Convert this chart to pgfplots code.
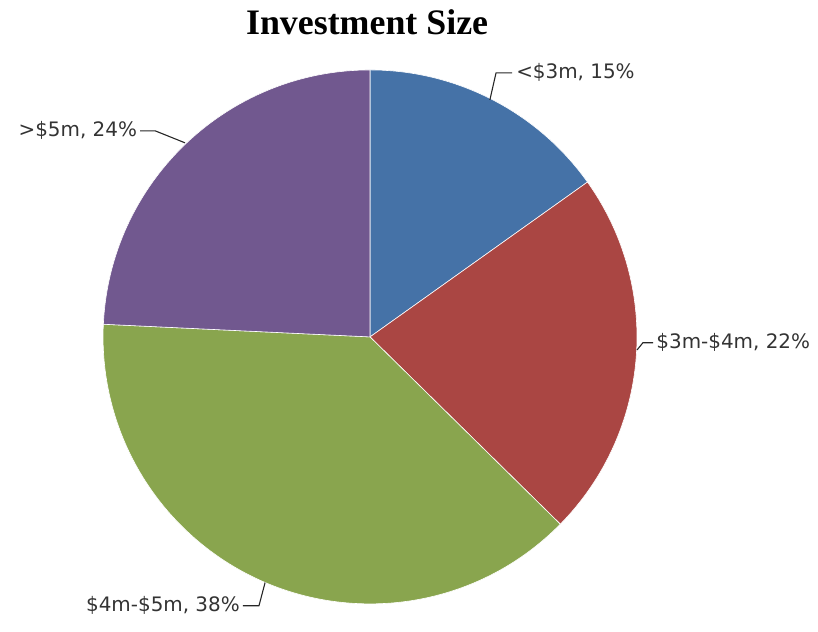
\documentclass[border=0pt]{standalone}
\usepackage{pgfplots}
\usepackage{pgfplotstable}
\usepackage{fontspec}
\pgfplotsset{compat=1.18}
\setmainfont{Liberation Serif}
\newfontfamily\labfont{DejaVu Sans}

\definecolor{sliceA}{HTML}{4572A7}
\definecolor{sliceB}{HTML}{AA4643}
\definecolor{sliceC}{HTML}{89A54E}
\definecolor{sliceD}{HTML}{71588F}

% investment size shares (percent)
\pgfplotstableread{
idx value
0 15
1 22
2 38
3 24
}\piedata

\begin{document}
\begin{tikzpicture}
\pgfplotstablegetelem{0}{value}\of\piedata \let\vA\pgfplotsretval
\pgfplotstablegetelem{1}{value}\of\piedata \let\vB\pgfplotsretval
\pgfplotstablegetelem{2}{value}\of\piedata \let\vC\pgfplotsretval
\pgfplotstablegetelem{3}{value}\of\piedata \let\vD\pgfplotsretval
\pgfmathsetmacro\tot{\vA+\vB+\vC+\vD}
\pgfmathsetmacro\aA{90}
\pgfmathsetmacro\aB{\aA-\vA/\tot*360}
\pgfmathsetmacro\aC{\aB-\vB/\tot*360}
\pgfmathsetmacro\aD{\aC-\vC/\tot*360}
\pgfmathsetmacro\aE{\aD-\vD/\tot*360}
\begin{axis}[
    x=267bp, y=267bp,
    xmin=-1.386, xmax=1.678,
    ymin=-1.105, ymax=1.262,
    hide axis, clip=false,
]
\path (rel axis cs:0,0) rectangle (rel axis cs:1,1);
\fill[sliceA, draw=white, line width=0.6pt] (axis cs:0,0) -- (axis cs:{cos(\aA)},{sin(\aA)}) arc[start angle=\aA, end angle=\aB, radius=267bp] -- cycle;
\fill[sliceB, draw=white, line width=0.6pt] (axis cs:0,0) -- (axis cs:{cos(\aB)},{sin(\aB)}) arc[start angle=\aB, end angle=\aC, radius=267bp] -- cycle;
\fill[sliceC, draw=white, line width=0.6pt] (axis cs:0,0) -- (axis cs:{cos(\aC)},{sin(\aC)}) arc[start angle=\aC, end angle=\aD, radius=267bp] -- cycle;
\fill[sliceD, draw=white, line width=0.6pt] (axis cs:0,0) -- (axis cs:{cos(\aD)},{sin(\aD)}) arc[start angle=\aD, end angle=\aE, radius=267bp] -- cycle;

% leader lines
\draw[black!85, line width=1.1pt] (axis cs:0.449,0.888) -- (axis cs:0.472,0.989) -- (axis cs:0.532,0.989);
\draw[black!85, line width=1.1pt] (axis cs:1.0,-0.049) -- (axis cs:1.022,-0.022) -- (axis cs:1.06,-0.022);
\draw[black!85, line width=1.1pt] (axis cs:-0.393,-0.92) -- (axis cs:-0.416,-1.007) -- (axis cs:-0.476,-1.007);
\draw[black!85, line width=1.1pt] (axis cs:-0.693,0.727) -- (axis cs:-0.805,0.772) -- (axis cs:-0.861,0.772);

% labels
\tikzset{lab/.style={inner sep=0pt, text=black!80, font=\labfont\fontsize{20}{22}\selectfont}}
\node[lab, anchor=west] at (axis cs:0.547,0.989) {<\$3m, 15\%};
\node[lab, anchor=west] at (axis cs:1.072,-0.022) {\$3m-\$4m, 22\%};
\node[lab, anchor=east] at (axis cs:-0.487,-1.007) {\$4m-\$5m, 38\%};
\node[lab, anchor=east] at (axis cs:-0.872,0.772) {>\$5m, 24\%};

% title
\node[font=\bfseries\fontsize{36}{40}\selectfont] at (axis cs:-0.011,1.18) {Investment Size};
\end{axis}
\end{tikzpicture}
\end{document}
